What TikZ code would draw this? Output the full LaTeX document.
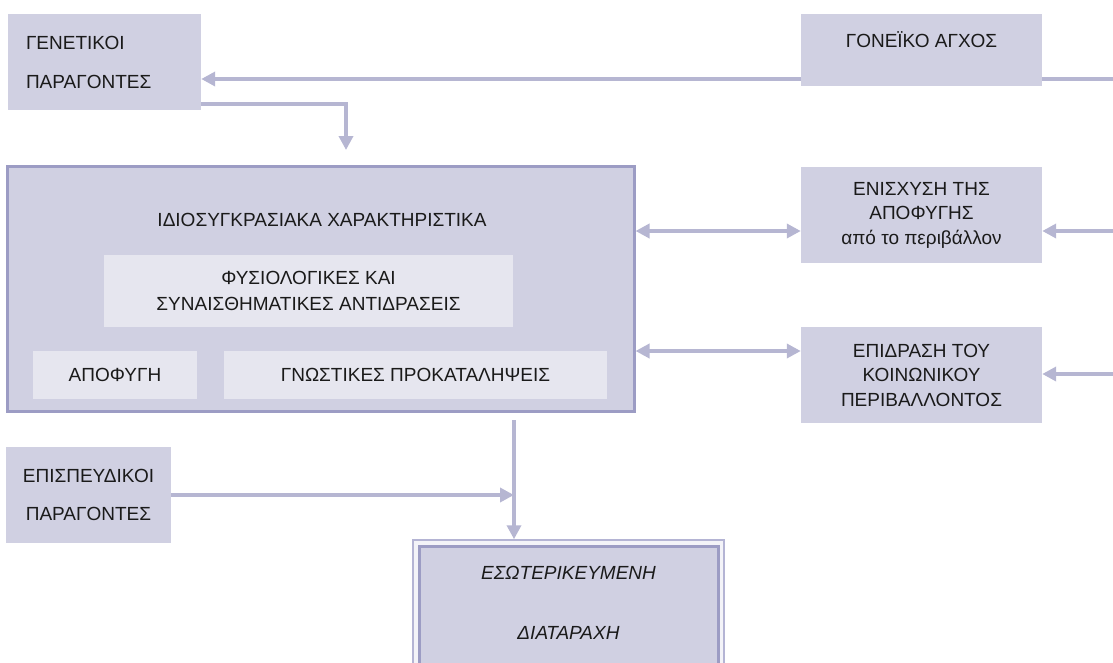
\documentclass[tikz,border=0pt]{standalone}
\usepackage{fontspec}
\setmainfont{Liberation Sans}
\usetikzlibrary{arrows.meta,backgrounds}
\definecolor{boxfill}{HTML}{D0D0E2}
\definecolor{innerfill}{HTML}{E6E6EF}
\definecolor{arrcol}{HTML}{B6B6D2}
\definecolor{mainborder}{HTML}{9C9CC4}
\definecolor{outerline}{HTML}{B4B4D4}
\definecolor{gapfill}{HTML}{F3F3F8}
\definecolor{txt}{HTML}{1A1A1A}
\tikzset{
  x=1pt, y=-1pt,
  box/.style={fill=boxfill, inner sep=0pt, text=txt, align=center},
  innerbox/.style={fill=innerfill, inner sep=0pt, text=txt, align=center},
  conn/.style={draw=arrcol, line width=3.5pt, -{Triangle[width=14pt,length=14pt]}},
  dconn/.style={draw=arrcol, line width=3.5pt, {Triangle[width=14pt,length=14pt]}-{Triangle[width=14pt,length=14pt]}},
}
\begin{document}
\begin{tikzpicture}[font=\fontsize{19}{24}\selectfont]
\useasboundingbox (0,0) rectangle (1113,662);
% boxes
\node[box, minimum width=193pt, minimum height=96pt, text width=157pt, align=left,
      font=\fontsize{19}{39}\selectfont] (gen) at (104.5,62) {ΓΕΝΕΤΙΚΟΙ\\ΠΑΡΑΓΟΝΤΕΣ};
\node[box, minimum width=241pt, minimum height=72pt, font=\fontsize{19}{20}\selectfont] (gon) at (921.5,50) {ΓΟΝΕΪΚΟ ΑΓΧΟΣ\\\mbox{}};
\node[box, draw=mainborder, line width=3pt, minimum width=627pt, minimum height=245pt] (main) at (320.5,288.5) {};
\node[text=txt] (title) at (322,220) {ΙΔΙΟΣΥΓΚΡΑΣΙΑΚΑ ΧΑΡΑΚΤΗΡΙΣΤΙΚΑ};
\node[innerbox, minimum width=409pt, minimum height=72pt, font=\fontsize{19}{26}\selectfont] (phys) at (308.5,291) {ΦΥΣΙΟΛΟΓΙΚΕΣ ΚΑΙ\\ΣΥΝΑΙΣΘΗΜΑΤΙΚΕΣ ΑΝΤΙΔΡΑΣΕΙΣ};
\node[innerbox, minimum width=164pt, minimum height=48pt] (apo) at (115,375) {ΑΠΟΦΥΓΗ};
\node[innerbox, minimum width=383pt, minimum height=48pt] (gno) at (415.5,375) {ΓΝΩΣΤΙΚΕΣ ΠΡΟΚΑΤΑΛΗΨΕΙΣ};
\node[box, minimum width=241pt, minimum height=96pt, font=\fontsize{19}{24.5}\selectfont] (eni) at (921.5,215) {ΕΝΙΣΧΥΣΗ ΤΗΣ\\ΑΠΟΦΥΓΗΣ\\από το περιβάλλον};
\node[box, minimum width=241pt, minimum height=96pt, font=\fontsize{19}{24.5}\selectfont] (epi) at (921.5,375) {ΕΠΙΔΡΑΣΗ ΤΟΥ\\ΚΟΙΝΩΝΙΚΟΥ\\ΠΕΡΙΒΑΛΛΟΝΤΟΣ};
\node[box, minimum width=165pt, minimum height=96pt, font=\fontsize{19}{38}\selectfont] (pre) at (88.5,495) {ΕΠΙΣΠΕΥΔΙΚΟΙ\\ΠΑΡΑΓΟΝΤΕΣ};
% final box: thin outer frame, light gap, thick inner frame (bottom runs off the page)
\node[fill=gapfill, draw=outerline, line width=1.5pt, inner sep=0pt,
      minimum width=311pt, minimum height=170pt] (esoouter) at (568.5,625) {};
\node[fill=boxfill, draw=mainborder, line width=3pt, inner sep=0pt,
      minimum width=299pt, minimum height=160pt] (esoframe) at (568.5,626) {};
\node[text=txt, align=center, inner sep=0pt, font=\itshape\fontsize{19}{60}\selectfont] (eso) at (568.5,603) {ΕΣΩΤΕΡΙΚΕΥΜΕΝΗ\\ΔΙΑΤΑΡΑΧΗ};
% connector end points
\coordinate (r1) at (1113,79);
\coordinate (r2) at (1113,231);
\coordinate (r3) at (1113,374);
\coordinate (g1) at (346,150);
\coordinate (m1) at (514,420);
\coordinate (m2) at (514,495);
\begin{scope}[on background layer]
\draw[conn] (r1) -- (gen.east |- r1);
\draw[conn] (gen.east |- 0,104) -| (g1);
\draw[dconn] (main.east |- 0,231) -- (eni.west |- 0,231);
\draw[dconn] (main.east |- 0,351) -- (epi.west |- 0,351);
\draw[conn] (r2) -- (eni.east |- r2);
\draw[conn] (r3) -- (epi.east |- r3);
\draw[conn] (m1) -- (esoouter.north -| m1);
\draw[conn] (pre.east |- m2) -- (m2);
\end{scope}
\end{tikzpicture}
\end{document}
